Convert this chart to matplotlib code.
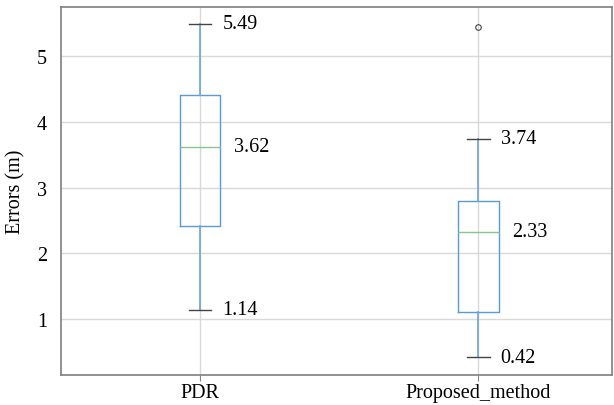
import matplotlib
matplotlib.use("Agg")
import matplotlib.pyplot as plt

# boxplot statistics
labels = ["PDR", "Proposed_method"]
whislo = [1.14, 0.42]
q1 = [2.41, 1.11]
med = [3.62, 2.33]
q3 = [4.40, 2.80]
whishi = [5.49, 3.74]
fliers = [[], [5.44]]

plt.rcParams['font.family'] = ['Liberation Serif', 'DejaVu Serif']

stats = []
for i in range(len(labels)):
    stats.append(dict(label=labels[i], whislo=whislo[i], q1=q1[i], med=med[i],
                      q3=q3[i], whishi=whishi[i], fliers=fliers[i]))

fig = plt.figure(figsize=(6.14, 4.06), dpi=100)
ax = fig.add_axes([61/614, 30/406, 551/614, 368/406])

blue = '#6aa6dc'
ax.bxp(stats, positions=[1, 2], widths=0.145, showfliers=True,
       boxprops=dict(color='#5b9bd5', linewidth=1.0),
       whiskerprops=dict(color=blue, linewidth=1.2),
       capprops=dict(color='#444444', linewidth=1.0),
       medianprops=dict(color='#8cc58c', linewidth=1.0),
       flierprops=dict(marker='o', markersize=4, markerfacecolor='none',
                       markeredgecolor='#444444', markeredgewidth=0.8),
       capwidths=0.08)

# value annotations
fs = 14.5
for i in range(len(labels)):
    x = i + 1
    ax.text(x + 0.08, whishi[i], f"{whishi[i]:.2f}", va='center', ha='left', fontsize=fs)
    ax.text(x + 0.08, whislo[i], f"{whislo[i]:.2f}", va='center', ha='left', fontsize=fs)
    ax.text(x + 0.12, med[i], f"{med[i]:.2f}", va='center', ha='left', fontsize=fs)

ax.set_xlim(0.5, 2.48)
ax.set_ylim(0.15, 5.745)
ax.set_yticks([1, 2, 3, 4, 5])
ax.grid(True, color='#d9d9d9', linewidth=1.0)
ax.set_axisbelow(True)
ax.set_ylabel("Errors (m)", fontsize=fs, labelpad=8)
ax.tick_params(labelsize=fs, color='#888888')
ax.tick_params(axis='y', length=0, pad=10)
ax.tick_params(axis='x', length=4, pad=2)
for s in ax.spines.values():
    s.set_color('#7f7f7f')
    s.set_linewidth(1.2)

plt.savefig('out.png')
